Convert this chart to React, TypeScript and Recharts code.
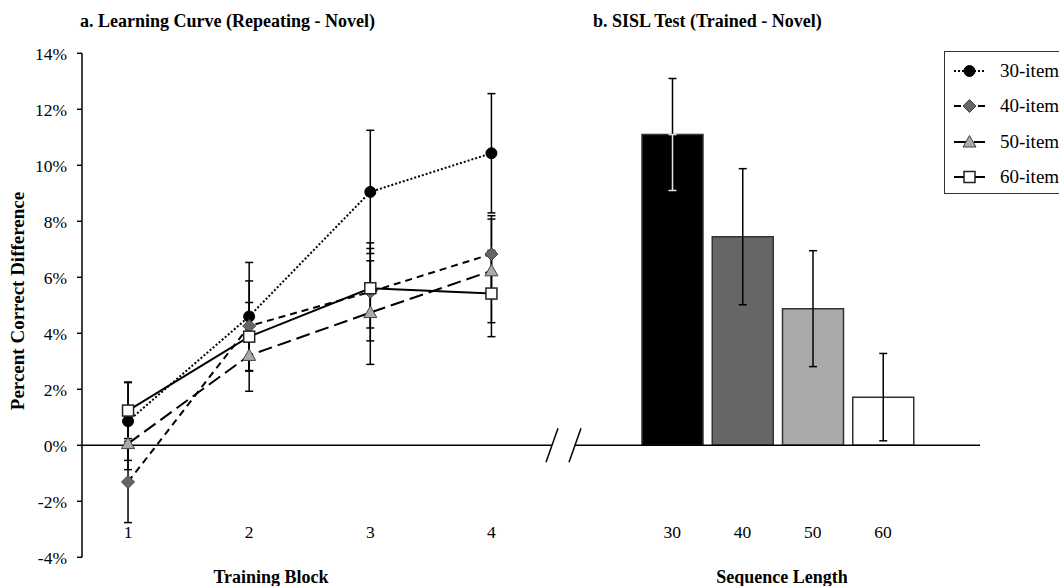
import React from 'react'
import {
  LineChart,
  Line,
  BarChart,
  Bar,
  Cell,
  XAxis,
  YAxis,
  ErrorBar,
  ReferenceLine,
  ReferenceDot,
  Legend,
} from 'recharts'

// learning curve (repeating - novel), % correct difference per training block
const blocks = [1, 2, 3, 4]
const item30 = [0.86, 4.6, 9.05, 10.43]
const err30 = [1.4, 1.93, 2.2, 2.13]
const item40 = [-1.31, 4.26, 5.48, 6.83]
const err40 = [1.45, 1.61, 1.75, 1.37]
const item50 = [0.06, 3.21, 4.74, 6.23]
const err50 = [0.93, 1.28, 1.85, 1.85]
const item60 = [1.24, 3.88, 5.61, 5.42]
const err60 = [1.0, 1.22, 1.42, 1.54]

// SISL test (trained - novel) per sequence length
const seqLengths = ['30', '40', '50', '60']
const seqValues = [11.1, 7.45, 4.88, 1.72]
const seqErrors = [2.0, 2.43, 2.07, 1.56]

const yTicks = [-4, -2, 0, 2, 4, 6, 8, 10, 12, 14]

const FONT = '"Liberation Serif", "Times New Roman", serif'

const series = [
  { key: 's30', err: 'e30', name: '30-item', dash: '2 2', shape: 'circle' },
  { key: 's40', err: 'e40', name: '40-item', dash: '7 5', shape: 'diamond' },
  { key: 's50', err: 'e50', name: '50-item', dash: '14 6', shape: 'triangle' },
  { key: 's60', err: 'e60', name: '60-item', dash: undefined, shape: 'square' },
]

const barFills = ['#000000', '#666666', '#aaaaaa', '#ffffff']

const lineData = blocks.map((b, i) => ({
  block: b,
  s30: item30[i],
  e30: err30[i],
  s40: item40[i],
  e40: err40[i],
  s50: item50[i],
  e50: err50[i],
  s60: item60[i],
  e60: err60[i],
}))

const barData = seqLengths.map((len, i) => ({
  len,
  value: seqValues[i],
  err: seqErrors[i],
  // lower half of the error bar shows light on the black bar
  errLight: barFills[i] === '#000000' ? [seqErrors[i], 0] : null,
}))

function Marker({ cx, cy, shape }: any) {
  if (cx == null || cy == null) return null
  if (shape === 'circle') return <circle cx={cx} cy={cy} r={5.5} fill="#000" stroke="#000" />
  if (shape === 'diamond')
    return (
      <polygon
        points={`${cx},${cy - 6.5} ${cx + 6.5},${cy} ${cx},${cy + 6.5} ${cx - 6.5},${cy}`}
        fill="#666"
        stroke="#444"
        strokeWidth={1}
      />
    )
  if (shape === 'triangle')
    return (
      <polygon
        points={`${cx},${cy - 6.5} ${cx + 6.5},${cy + 5} ${cx - 6.5},${cy + 5}`}
        fill="#aaa"
        stroke="#444"
        strokeWidth={1}
      />
    )
  return <rect x={cx - 5.5} y={cy - 5.5} width={11} height={11} fill="#fff" stroke="#222" strokeWidth={1.5} />
}

// category labels sit just above the -4% line
const XTick = ({ x, y, payload }: any) => (
  <text x={x} y={y - 25} textAnchor="middle" dominantBaseline="central" fontSize={17.5} fontFamily={FONT} fill="#000">
    {payload.value}
  </text>
)

// axis break marks on the zero line
const BreakMarks = ({ cx, cy }: any) => (
  <g stroke="#000" strokeWidth={1.5}>
    <line x1={cx - 6} y1={cy + 17} x2={cx + 6} y2={cy - 17} />
    <line x1={cx + 17} y1={cy + 17} x2={cx + 29} y2={cy - 17} />
  </g>
)

const LegendBox = ({ payload }: any) => (
  <div
    style={{
      position: 'relative',
      width: 130,
      height: 143,
      border: '1.5px solid #333',
      boxSizing: 'border-box',
      background: '#fff',
      fontFamily: FONT,
      fontSize: 19,
      color: '#000',
    }}
  >
    {(payload || []).map((entry: any, i: number) => {
      const s = series.find((x) => x.name === entry.value) || series[i]
      return (
        <div key={s.key} style={{ position: 'absolute', left: 0, top: 7 + i * 35.4, height: 24, display: 'flex', alignItems: 'center' }}>
          <svg width={52} height={24} style={{ display: 'block' }}>
            <line x1={9} y1={12} x2={40} y2={12} stroke="#000" strokeWidth={2} strokeDasharray={s.dash} />
            <Marker cx={24.5} cy={12} shape={s.shape} />
          </svg>
          <span style={{ marginLeft: 3, whiteSpace: 'nowrap' }}>{s.name}</span>
        </div>
      )
    })}
  </div>
)

const textBase: React.CSSProperties = {
  position: 'absolute',
  fontFamily: FONT,
  fontWeight: 'bold',
  color: '#000',
  whiteSpace: 'nowrap',
  lineHeight: 1,
}

export default function App() {
  return (
    <div style={{ position: 'absolute', left: 0, top: 0, width: 1059, height: 586, overflow: 'hidden', background: '#fff' }}>
      <LineChart width={1059} height={586} data={lineData} margin={{ top: 53.3, right: 507, bottom: 0, left: 22 }}>
        <XAxis
          dataKey="block"
          type="number"
          domain={[0.62, 4.5]}
          ticks={blocks}
          allowDataOverflow
          axisLine={false}
          tickLine={false}
          tickSize={0}
          tickMargin={0}
          height={28.7}
          tick={<XTick />}
        />
        <YAxis
          domain={[-4, 14]}
          ticks={yTicks}
          allowDataOverflow
          width={60}
          tickFormatter={(v) => `${v}%`}
          axisLine={{ stroke: '#000', strokeWidth: 1.5 }}
          tickLine={{ stroke: '#000', strokeWidth: 1.5 }}
          tickSize={5}
          tickMargin={10}
          tick={{ fill: '#000', fontSize: 17.5, fontFamily: FONT }}
        />
        <ReferenceLine y={0} stroke="#000" strokeWidth={1.5} />
        <ReferenceDot x={4.5} y={0} ifOverflow="visible" shape={<BreakMarks />} />
        {series.map((s) => (
          <Line
            key={s.key}
            dataKey={s.key}
            name={s.name}
            stroke="#000"
            strokeWidth={2}
            strokeDasharray={s.dash}
            isAnimationActive={false}
            dot={(p: any) => <Marker key={`${s.key}-${p.index}`} cx={p.cx} cy={p.cy} shape={s.shape} />}
            activeDot={false}
          >
            <ErrorBar dataKey={s.err} direction="y" width={4} stroke="#000" strokeWidth={1.5} />
          </Line>
        ))}
        <Legend
          layout="horizontal"
          verticalAlign="middle"
          align="center"
          content={<LegendBox />}
          wrapperStyle={{ left: 944, top: 51, width: 130, height: 143 }}
        />
      </LineChart>

      <div style={{ position: 'absolute', left: 560, top: 0 }}>
        <BarChart width={440} height={586} data={barData} margin={{ top: 53.3, right: 20, bottom: 0, left: 15 }}>
          <XAxis
            dataKey="len"
            padding={{ left: 62, right: 62 }}
            axisLine={false}
            tickLine={false}
            tickSize={0}
            tickMargin={0}
            height={28.7}
            tick={<XTick />}
          />
          <YAxis hide domain={[-4, 14]} allowDataOverflow width={0} />
          <ReferenceLine y={0} stroke="#000" strokeWidth={1.5} />
          <Bar dataKey="value" barSize={61} stroke="#333" strokeWidth={1.5} isAnimationActive={false}>
            {barData.map((d, i) => (
              <Cell key={d.len} fill={barFills[i]} />
            ))}
            <ErrorBar dataKey="err" direction="y" width={4} stroke="#000" strokeWidth={1.5} />
            <ErrorBar dataKey="errLight" direction="y" width={4} stroke="#e6e6e6" strokeWidth={1.5} />
          </Bar>
        </BarChart>
      </div>

      <div style={{ ...textBase, left: 80, top: 12, fontSize: 18 }}>a. Learning Curve (Repeating - Novel)</div>
      <div style={{ ...textBase, left: 593, top: 12, fontSize: 18 }}>b. SISL Test (Trained - Novel)</div>
      <div style={{ ...textBase, left: 271, top: 568, fontSize: 18, transform: 'translateX(-50%)' }}>Training Block</div>
      <div style={{ ...textBase, left: 782, top: 568, fontSize: 18, transform: 'translateX(-50%)' }}>Sequence Length</div>
      <div
        style={{
          ...textBase,
          left: 17,
          top: 301,
          fontSize: 19,
          transform: 'translate(-50%, -50%) rotate(-90deg)',
        }}
      >
        Percent Correct Difference
      </div>
    </div>
  )
}
